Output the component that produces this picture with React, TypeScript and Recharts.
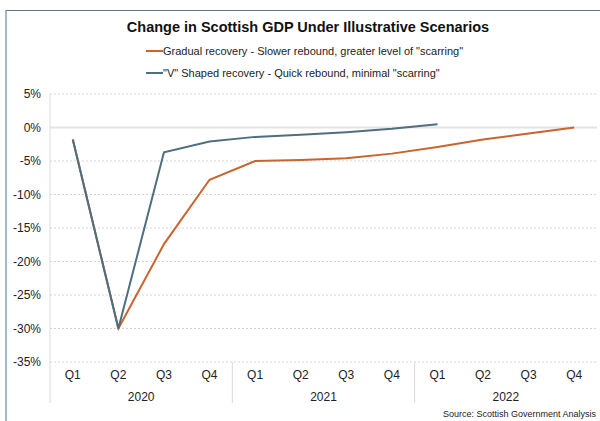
import React from 'react';
import { LineChart, Line, XAxis, YAxis, CartesianGrid, Legend, ReferenceLine } from 'recharts';

const quarters = ['Q1', 'Q2', 'Q3', 'Q4', 'Q1', 'Q2', 'Q3', 'Q4', 'Q1', 'Q2', 'Q3', 'Q4'];
const years = ['2020', '2020', '2020', '2020', '2021', '2021', '2021', '2021', '2022', '2022', '2022', '2022'];
const gradualRecovery = [-1.8, -30, -17.4, -7.8, -5.0, -4.85, -4.6, -3.9, -2.9, -1.8, -0.9, 0];
const vShapedRecovery = [-1.8, -30, -3.7, -2.1, -1.4, -1.1, -0.7, -0.2, 0.5, null, null, null];
const yTicks = [5, 0, -5, -10, -15, -20, -25, -30, -35];

const data = quarters.map((q, i) => ({
  q,
  year: years[i],
  gradual: gradualRecovery[i],
  vShaped: vShapedRecovery[i],
}));

const font = '"Liberation Sans", Arial, Helvetica, sans-serif';
const orange = '#c9642e';
const slate = '#4d6f7f';
// half the distance between two quarters, used for padding and year separators
const HALF = 22.8;

const legendItems = [
  { label: 'Gradual recovery - Slower rebound, greater level of "scarring"', color: orange },
  { label: '"V" Shaped recovery - Quick rebound, minimal "scarring"', color: slate },
];

function QuarterTick(props: any) {
  const { x, y, payload, index } = props;
  return (
    <g>
      {index % 4 === 0 && (
        <line x1={x - HALF} x2={x - HALF} y1={y} y2={y + 41} stroke="#d9d9d9" strokeWidth={1} />
      )}
      <text x={x} y={y + 17} textAnchor="middle" fontSize={12} fill="#222" fontFamily={font}>
        {payload.value}
      </text>
    </g>
  );
}

function YearTick(props: any) {
  const { x, y, payload, index } = props;
  if (index % 4 !== 1) return <g />;
  return (
    <text x={x + HALF} y={y + 17} textAnchor="middle" fontSize={12} fill="#222" fontFamily={font}>
      {payload.value}
    </text>
  );
}

function LegendRows() {
  return (
    <div style={{ fontFamily: font, fontSize: 11, color: '#222' }}>
      {legendItems.map((p) => (
        <div key={p.label} style={{ display: 'flex', alignItems: 'center', height: 22, whiteSpace: 'nowrap' }}>
          <span style={{ display: 'inline-block', width: 17, height: 2, background: p.color }} />
          <span>{p.label}</span>
        </div>
      ))}
    </div>
  );
}

export default function App() {
  return (
    <div
      style={{
        position: 'absolute',
        left: 0,
        top: 0,
        width: 600,
        height: 421,
        background: '#fff',
        fontFamily: font,
        overflow: 'hidden',
      }}
    >
      <div
        style={{
          position: 'absolute',
          left: 5,
          top: 10,
          right: 0,
          bottom: 0,
          borderTop: '1.5px solid #5f7585',
          borderLeft: '2px solid #a3bacb',
        }}
      />
      <div
        style={{
          position: 'absolute',
          left: 0,
          width: 616,
          top: 19,
          textAlign: 'center',
          fontSize: 14.5,
          fontWeight: 'bold',
          color: '#111',
        }}
      >
        Change in Scottish GDP Under Illustrative Scenarios
      </div>
      <LineChart
        width={600}
        height={421}
        data={data}
        margin={{ top: 40, right: 3, left: 0, bottom: 15 }}
      >
        <CartesianGrid vertical={false} stroke="#d4d4d4" strokeDasharray="2 2" />
        <ReferenceLine y={0} stroke="#e4e4e4" strokeWidth={2} />
        <XAxis
          dataKey="q"
          padding={{ left: HALF, right: HALF }}
          axisLine={false}
          tickLine={false}
          tickSize={0}
          tickMargin={0}
          height={22}
          interval={0}
          tick={<QuarterTick />}
        />
        <XAxis
          xAxisId="year"
          dataKey="year"
          padding={{ left: HALF, right: HALF }}
          axisLine={false}
          tickLine={false}
          tickSize={0}
          tickMargin={0}
          height={22}
          interval={0}
          tick={<YearTick />}
        />
        <YAxis
          width={50}
          domain={[-35, 5]}
          ticks={yTicks}
          interval={0}
          axisLine={{ stroke: '#dcdcdc' }}
          tickLine={false}
          tickSize={0}
          tickMargin={9}
          tickFormatter={(v: number) => `${v}%`}
          tick={{ fontSize: 12, fill: '#222', fontFamily: font }}
        />
        <Legend
          layout="vertical"
          align="center"
          verticalAlign="top"
          content={<LegendRows />}
          wrapperStyle={{ left: 146, top: 40, height: 54, width: 'auto' }}
        />
        <Line
          name="gradual"
          type="linear"
          dataKey="gradual"
          stroke={orange}
          strokeWidth={2}
          dot={false}
          activeDot={false}
          isAnimationActive={false}
        />
        <Line
          name="vShaped"
          type="linear"
          dataKey="vShaped"
          stroke={slate}
          strokeWidth={2}
          dot={false}
          activeDot={false}
          isAnimationActive={false}
        />
      </LineChart>
      <div
        style={{
          position: 'absolute',
          right: 4,
          top: 409,
          fontSize: 9,
          color: '#222',
        }}
      >
        Source: Scottish Government Analysis
      </div>
    </div>
  );
}
